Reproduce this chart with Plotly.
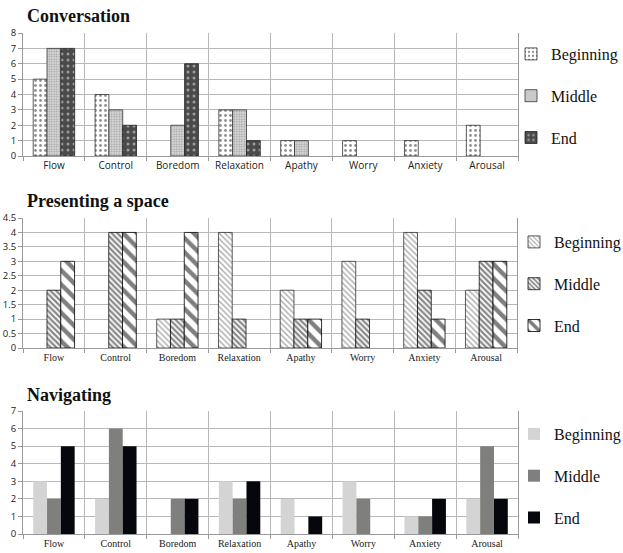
import plotly.graph_objects as go

categories = ["Flow", "Control", "Boredom", "Relaxation", "Apathy", "Worry", "Anxiety", "Arousal"]
series_names = ["Beginning", "Middle", "End"]

conv_beginning = [5, 4, 0, 3, 1, 1, 1, 2]
conv_middle = [7, 3, 2, 3, 1, 0, 0, 0]
conv_end = [7, 2, 6, 1, 0, 0, 0, 0]

pres_beginning = [0, 0, 1, 4, 2, 3, 4, 2]
pres_middle = [2, 4, 1, 1, 1, 1, 2, 3]
pres_end = [3, 4, 4, 0, 1, 0, 1, 3]

nav_beginning = [3, 2, 0, 3, 2, 3, 1, 2]
nav_middle = [2, 6, 2, 2, 0, 2, 1, 5]
nav_end = [5, 5, 2, 3, 1, 0, 2, 2]

titles = ["Conversation", "Presenting a space", "Navigating"]

W, H = 623, 553
def px(x):
    return x / W
def py(y):
    return 1 - y / H

fig = go.Figure()

conv_styles = [
    dict(color="white", pattern=dict(shape=".", fgcolor="#222", bgcolor="white", size=5, solidity=0.25), line=dict(color="#333", width=0.8)),
    dict(color="#bbb", pattern=dict(shape=".", fgcolor="#666", bgcolor="#e6e6e6", size=2.5, solidity=0.5), line=dict(color="#333", width=0.8)),
    dict(color="#555", pattern=dict(shape=".", fgcolor="#eee", bgcolor="#4a4a4a", size=6, solidity=0.2), line=dict(color="#222", width=0.8)),
]
pres_styles = [
    dict(color="white", pattern=dict(shape="\\", fgcolor="#555", bgcolor="white", size=4, solidity=0.35), line=dict(color="#333", width=0.8)),
    dict(color="white", pattern=dict(shape="\\", fgcolor="#111", bgcolor="white", size=4, solidity=0.55), line=dict(color="#111", width=0.8)),
    dict(color="white", pattern=dict(shape="\\", fgcolor="#000", bgcolor="white", size=10, solidity=0.45), line=dict(color="#000", width=0.8)),
]
nav_styles = [
    dict(color="#d4d4d4", line=dict(width=0)),
    dict(color="#7f807e", line=dict(width=0)),
    dict(color="#05070d", line=dict(width=0)),
]

data_sets = [
    [conv_beginning, conv_middle, conv_end],
    [pres_beginning, pres_middle, pres_end],
    [nav_beginning, nav_middle, nav_end],
]
styles = [conv_styles, pres_styles, nav_styles]

# plot areas in pixels (left, right, top, bottom)
plot_boxes = [(23, 518, 33, 156), (23, 517, 218, 348), (23, 518, 411, 534)]
yranges = [(0, 8, 1), (0, 4.5, 0.5), (0, 7, 1)]
title_y = [16, 201, 395]
legend_pos = [(511, 37), (514, 225), (514, 417)]
cat_fonts = ["Open Sans", "Liberation Serif", "Liberation Serif"]

for i in range(3):
    xa = "x" if i == 0 else f"x{i+1}"
    ya = "y" if i == 0 else f"y{i+1}"
    leg = "legend" if i == 0 else f"legend{i+1}"
    for j, name in enumerate(series_names):
        vals = [v if v != 0 else None for v in data_sets[i][j]]
        fig.add_trace(go.Bar(
            x=categories, y=vals, name=name,
            marker=styles[i][j], xaxis=xa, yaxis=ya, legend=leg,
            legendgroup=f"g{i}{j}",
        ))
    l, r, t, b = plot_boxes[i]
    ymin, ymax, dt = yranges[i]
    xkey = "xaxis" if i == 0 else f"xaxis{i+1}"
    ykey = "yaxis" if i == 0 else f"yaxis{i+1}"
    fig.update_layout(**{
        xkey: dict(
            domain=[px(l), px(r)], anchor=ya, type="category",
            tickson="boundaries", showgrid=True, gridcolor="#b8b8b8", gridwidth=1,
            ticks="outside", ticklen=4, tickcolor="#999",
            showline=True, linecolor="#999", linewidth=1,
            tickfont=dict(family=cat_fonts[i], size=10, color="#222"),
            fixedrange=True, automargin=False,
        ),
        ykey: dict(
            domain=[py(b), py(t)], anchor=xa, range=[ymin, ymax], dtick=dt,
            showgrid=True, gridcolor="#b8b8b8", gridwidth=1,
            ticks="outside", ticklen=4, tickcolor="#999",
            showline=True, linecolor="#999", linewidth=1, mirror=True,
            tickfont=dict(family="Open Sans", size=9.5, color="#222"),
            zeroline=False, automargin=False,
        ),
        leg: dict(
            x=px(legend_pos[i][0]), y=py(legend_pos[i][1]), xanchor="left", yanchor="top",
            font=dict(family="Liberation Serif", size=16, color="#111"),
            tracegroupgap=18, bgcolor="rgba(0,0,0,0)", itemwidth=30,
            traceorder="grouped",
        ),
    })
    fig.add_annotation(
        text=f"<b>{titles[i]}</b>", xref="paper", yref="paper",
        x=px(25), y=py(title_y[i]), xanchor="left", yanchor="middle",
        showarrow=False, font=dict(family="Liberation Serif", size=18, color="#111"),
    )

fig.update_layout(
    width=W, height=H, margin=dict(l=0, r=0, t=0, b=0, autoexpand=False),
    paper_bgcolor="white", plot_bgcolor="white",
    barmode="group", bargap=0.33, bargroupgap=0,
    showlegend=True,
)

fig.write_html("out.html", config={"displayModeBar": False},
               post_script="document.body.style.margin='0';document.body.style.overflow='hidden';")
